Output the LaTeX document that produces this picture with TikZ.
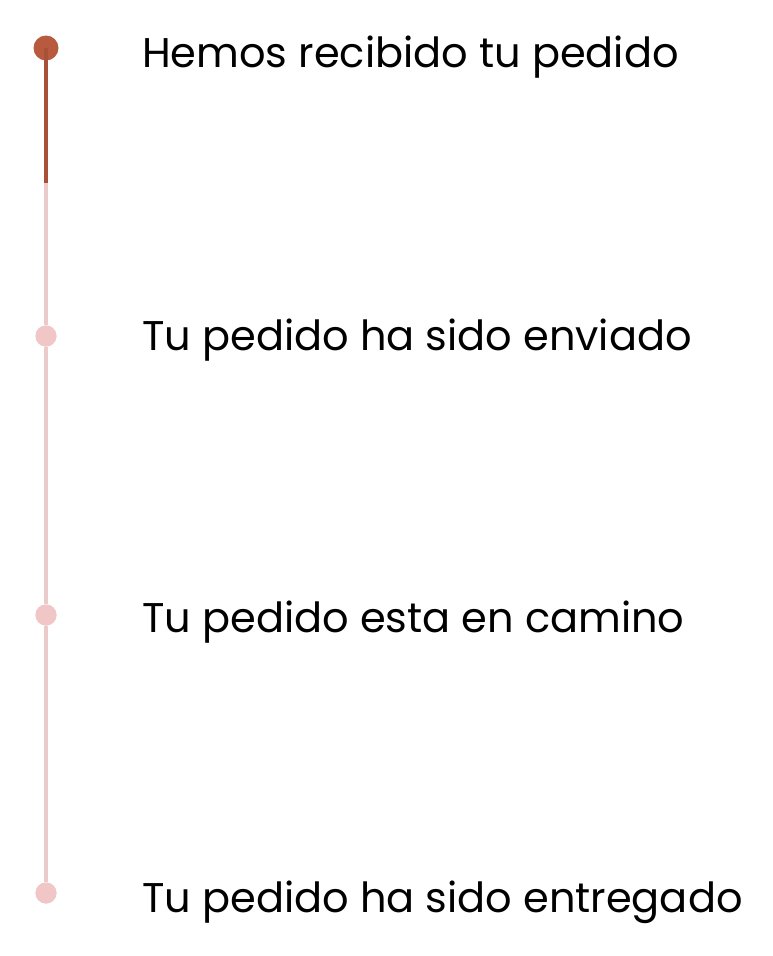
\documentclass[tikz,border=0pt]{standalone}
\usepackage{fontspec}
\setmainfont{Poppins}
\definecolor{rust}{HTML}{B85A3E}
\definecolor{rustline}{HTML}{A85038}
\definecolor{pinkdot}{HTML}{F0C6C6}
\definecolor{pinkline}{HTML}{EBCBC9}
\begin{document}
\begin{tikzpicture}[x=1pt,y=-1pt,
  steptext/.style={anchor=base west,inner sep=0pt,font=\fontsize{41.5}{48}\selectfont},
  donedot/.style={circle,fill=rust,minimum size=25pt,inner sep=0pt},
  tododot/.style={circle,fill=pinkdot,minimum size=21pt,inner sep=0pt}]
\useasboundingbox (0,0) rectangle (772,956);
\fill[white] (0,0) rectangle (772,956);
\coordinate (split) at (46,183);
\node[tododot] (d2) at (46,336) {};
\node[tododot] (d3) at (46,615) {};
\node[tododot] (d4) at (46,893) {};
\draw[pinkline,line width=3.5pt] (split) -- (d2) -- (d3) -- (d4);
\node[tododot] at (46,336) {};
\node[tododot] at (46,615) {};
\node[tododot] at (46,893) {};
\node[donedot] (d1) at (46,48) {};
\draw[rustline,line width=4pt] (d1.center) -- (split);
\node[steptext] (t1) at (142,67) {Hemos recibido tu pedido};
\node[steptext] (t2) at (142,350) {Tu pedido ha sido enviado};
\node[steptext] (t3) at (142,632) {Tu pedido esta en camino};
\node[steptext] (t4) at (142,912) {Tu pedido ha sido entregado};
\end{tikzpicture}
\end{document}
